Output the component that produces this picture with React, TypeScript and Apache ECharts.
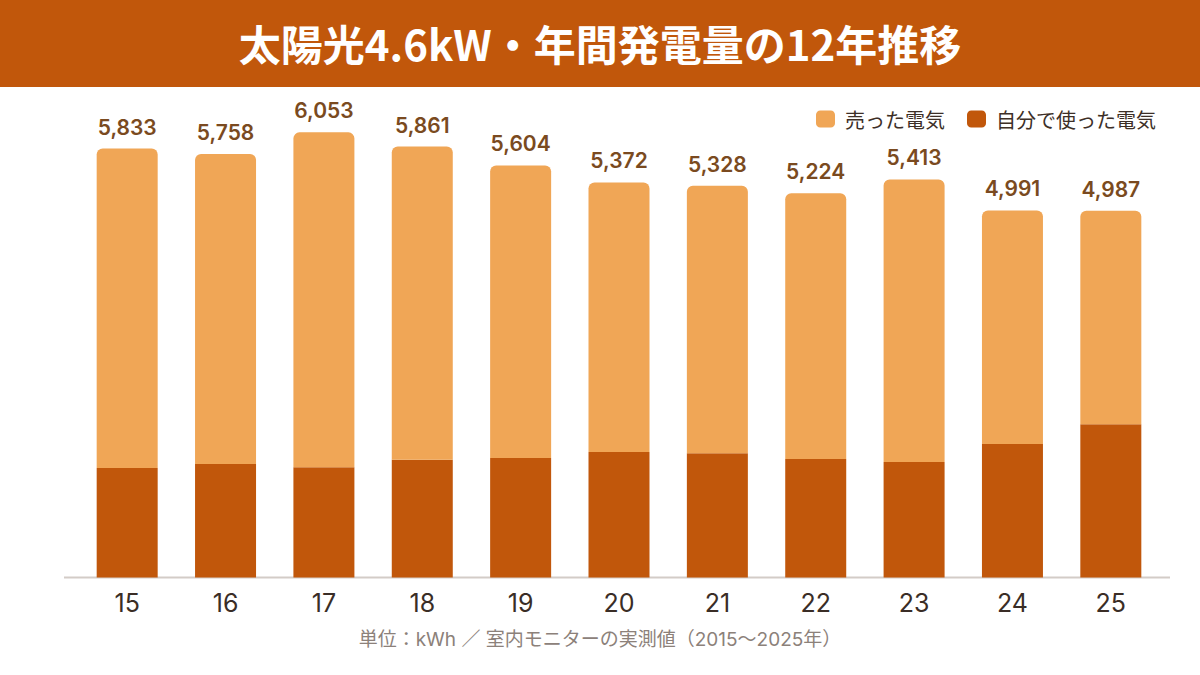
import React, { useEffect, useRef } from 'react';
import * as echarts from 'echarts';

const years = ['15', '16', '17', '18', '19', '20', '21', '22', '23', '24', '25'];
const totals = [5833, 5758, 6053, 5861, 5604, 5372, 5328, 5224, 5413, 4991, 4987];
const selfUse = [1490, 1545, 1500, 1600, 1625, 1705, 1690, 1610, 1570, 1815, 2085];
const sold = [4343, 4213, 4553, 4261, 3979, 3667, 3638, 3614, 3843, 3176, 2902];

const FONT = '"Noto Sans CJK JP", "Noto Sans", sans-serif';
// Latin/digits look wider in the reference, so use Inter first and fall back to CJK
const NUM_FONT = 'Inter, "Noto Sans CJK JP", sans-serif';
const DARK = '#C1570B';
const LIGHT = '#F0A656';

const App: React.FC = () => {
  const chartRef = useRef<HTMLDivElement>(null);

  useEffect(() => {
    document.body.style.margin = '0';
    if (!chartRef.current) return;
    const myChart = echarts.init(chartRef.current, null, { renderer: 'svg' });
    const option = {
      animation: false,
      backgroundColor: '#ffffff',
      textStyle: { fontFamily: FONT },
      title: [
        {
          text: '太陽光4.6kW・年間発電量の12年推移',
          left: 'center',
          top: 16,
          textStyle: { color: '#ffffff', fontSize: 42, fontWeight: 'bold', fontFamily: FONT },
        },
        {
          text: '単位：kWh ／ 室内モニターの実測値（2015〜2025年）',
          left: 'center',
          top: 625,
          textStyle: { color: '#8C817A', fontSize: 19, fontWeight: 'normal', fontFamily: NUM_FONT },
        },
      ],
      graphic: [
        { type: 'rect', z: 0, shape: { x: 0, y: 0, width: 1200, height: 87 }, style: { fill: DARK } },
        { type: 'line', z: 0, shape: { x1: 64, y1: 577.5, x2: 1170, y2: 577.5 }, style: { stroke: '#D3CCC7', lineWidth: 2 } },
      ],
      legend: {
        data: ['売った電気', '自分で使った電気'],
        right: 39,
        top: 104,
        itemWidth: 19,
        itemHeight: 17,
        itemGap: 22,
        icon: 'roundRect',
        textStyle: { fontSize: 20, color: '#3D2F27', padding: [0, 0, 0, 5], fontFamily: FONT },
      },
      grid: { left: 78, right: 40, top: 99.5, bottom: 97.5 },
      xAxis: {
        type: 'category',
        data: years,
        axisLine: { show: false },
        axisTick: { show: false },
        axisLabel: { fontSize: 25, color: '#3A2D26', margin: 13, fontFamily: NUM_FONT },
      },
      yAxis: {
        type: 'value',
        min: 0,
        max: 6500,
        show: false,
        splitLine: { show: false },
      },
      series: [
        {
          name: '自分で使った電気',
          type: 'bar',
          stack: 'total',
          barWidth: 61,
          data: selfUse,
          itemStyle: { color: DARK },
        },
        {
          name: '売った電気',
          type: 'bar',
          stack: 'total',
          barWidth: 61,
          data: sold,
          itemStyle: { color: LIGHT, borderRadius: [6, 6, 0, 0] },
          label: {
            show: true,
            position: 'top',
            distance: 11,
            fontSize: 21,
            fontWeight: 600,
            color: '#7A4A20',
            fontFamily: NUM_FONT,
            formatter: (p: any) => totals[p.dataIndex].toLocaleString('en-US'),
          },
        },
      ],
    };
    myChart.setOption(option);
    return () => { myChart.dispose(); };
  }, []);

  return <div ref={chartRef} style={{ width: 1200, height: 675 }} />;
};

export default App;
